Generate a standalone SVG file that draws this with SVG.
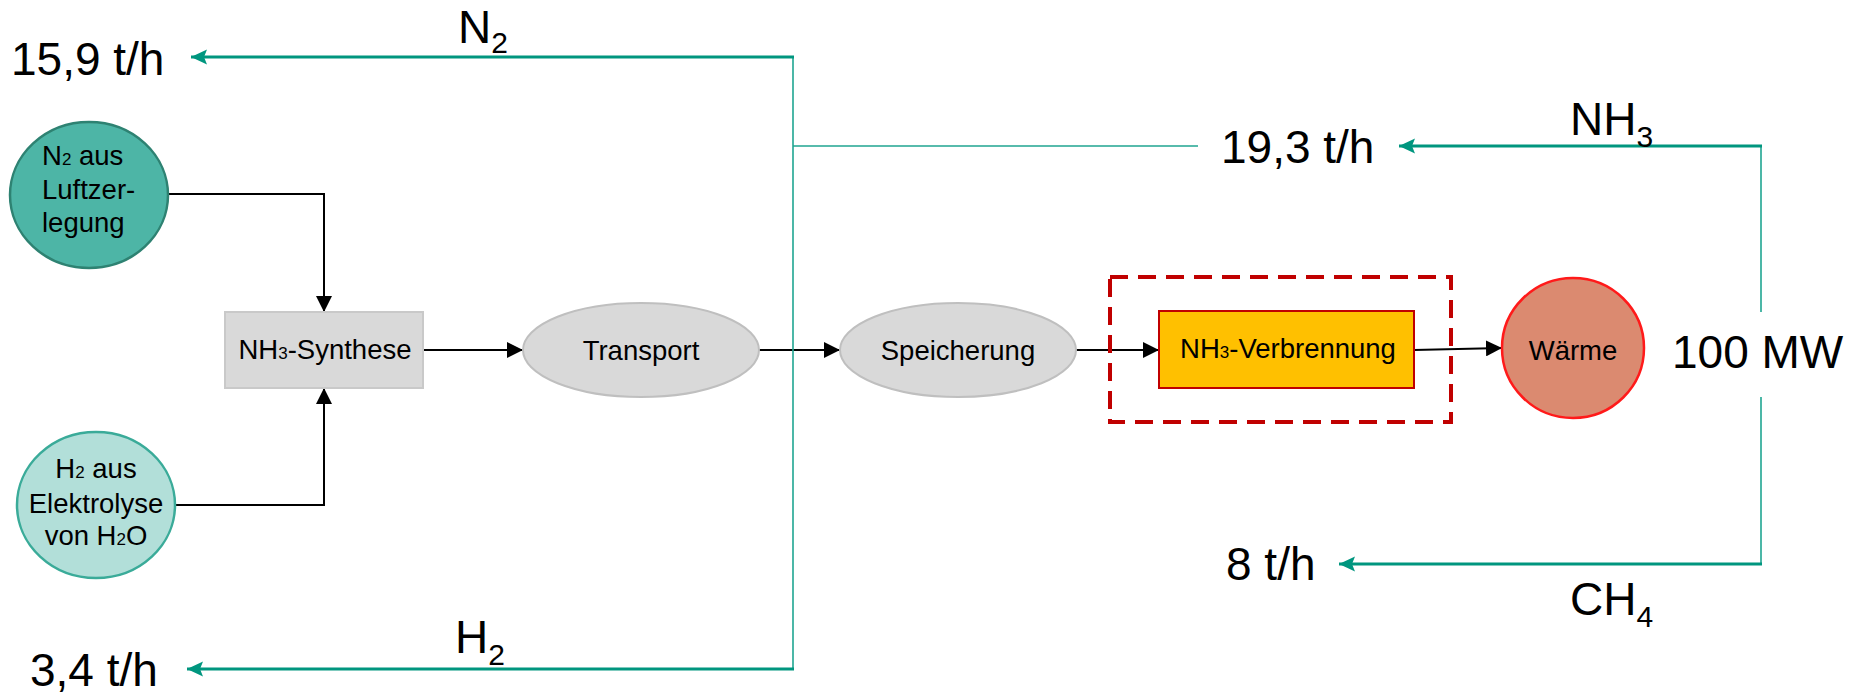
<svg xmlns="http://www.w3.org/2000/svg" width="1854" height="694" viewBox="0 0 1854 694">
  <style>
    text { font-family: "Liberation Sans", Arial, sans-serif; fill: #000; }
    .big { font-size: 46px; }
    .sub { font-size: 30px; }
    .lbl { font-size: 27.5px; }
    .lsub { font-size: 17px; }
    .flow { fill: none; stroke: #000; stroke-width: 2; }
    .teal { fill: none; stroke: #00967f; stroke-width: 3; }
    .tealthin { fill: none; stroke: #1fa591; stroke-width: 1.6; }
  </style>
  <defs>
    <marker id="arrowBlack" markerUnits="userSpaceOnUse" markerWidth="16" markerHeight="16" refX="16" refY="8" orient="auto">
      <path d="M0,0 L16,8 L0,16 Z" fill="#000"/>
    </marker>
    <marker id="arrowTeal" markerUnits="userSpaceOnUse" markerWidth="16" markerHeight="16" refX="16" refY="8" orient="auto">
      <path d="M0,0.5 L16,8 L0,15.5 L3,8 Z" fill="#00967f"/>
    </marker>
  </defs>

  <!-- connectors -->
  <g id="connectors">
    <!-- main process chain -->
    <path class="flow" d="M168,194 H324 V312" marker-end="url(#arrowBlack)"/>
    <path class="flow" d="M175,505 H324 V388" marker-end="url(#arrowBlack)"/>
    <path class="flow" d="M423,350 H523" marker-end="url(#arrowBlack)"/>
    <path class="flow" d="M759,350 H840" marker-end="url(#arrowBlack)"/>
    <path class="flow" d="M1076,350 H1159" marker-end="url(#arrowBlack)"/>
    <path class="flow" d="M1414,350 L1502,348" marker-end="url(#arrowBlack)"/>

    <!-- mass flows, left branch -->
    <path class="tealthin" d="M793,57 V669"/>
    <path class="tealthin" d="M793,146 H1198"/>
    <path class="teal" d="M794,57 H191" marker-end="url(#arrowTeal)"/>
    <path class="teal" d="M794,669 H187" marker-end="url(#arrowTeal)"/>

    <!-- mass flows, right branch -->
    <path class="tealthin" d="M1761,146 V312"/>
    <path class="tealthin" d="M1761,397 V564"/>
    <path class="teal" d="M1762,146 H1399" marker-end="url(#arrowTeal)"/>
    <path class="teal" d="M1762,564 H1339" marker-end="url(#arrowTeal)"/>
  </g>

  <!-- flow labels -->
  <g id="labels">
    <text class="big" x="11" y="75">15,9 t/h</text>
    <text class="big" x="458" y="43">N<tspan class="sub" dy="10">2</tspan></text>
    <text class="big" x="1221" y="163">19,3 t/h</text>
    <text class="big" x="1570" y="135">NH<tspan class="sub" dy="12">3</tspan></text>
    <text class="big" x="1672" y="368">100 MW</text>
    <text class="big" x="1226" y="580">8 t/h</text>
    <text class="big" x="1570" y="615">CH<tspan class="sub" dy="12">4</tspan></text>
    <text class="big" x="455" y="653">H<tspan class="sub" dy="12">2</tspan></text>
    <text class="big" x="30" y="686">3,4 t/h</text>
  </g>

  <!-- nodes -->
  <g id="n2-source">
    <ellipse cx="89" cy="195" rx="79" ry="73" fill="#4db5a6" stroke="#2e8272" stroke-width="2.5"/>
    <text class="lbl" x="42" y="165">N<tspan class="lsub">2</tspan> aus</text>
    <text class="lbl" x="42" y="199">Luftzer-</text>
    <text class="lbl" x="42" y="232">legung</text>
  </g>

  <g id="h2-source">
    <ellipse cx="96" cy="505" rx="79" ry="73" fill="#b2dfd9" stroke="#3aab99" stroke-width="2.5"/>
    <text class="lbl" x="96" y="478" text-anchor="middle">H<tspan class="lsub">2</tspan> aus</text>
    <text class="lbl" x="96" y="513" text-anchor="middle">Elektrolyse</text>
    <text class="lbl" x="96" y="545" text-anchor="middle">von H<tspan class="lsub">2</tspan>O</text>
  </g>

  <g id="synthese">
    <rect x="225" y="312" width="198" height="76" fill="#d9d9d9" stroke="#c9c9c9" stroke-width="2"/>
    <text class="lbl" x="325" y="359" text-anchor="middle">NH<tspan class="lsub">3</tspan>-Synthese</text>
  </g>

  <g id="transport">
    <ellipse cx="641" cy="350" rx="118" ry="47" fill="#d9d9d9" stroke="#bfbfbf" stroke-width="2"/>
    <text class="lbl" x="641" y="360" text-anchor="middle">Transport</text>
  </g>

  <g id="speicherung">
    <ellipse cx="958" cy="350" rx="118" ry="47" fill="#d9d9d9" stroke="#bfbfbf" stroke-width="2"/>
    <text class="lbl" x="958" y="360" text-anchor="middle">Speicherung</text>
  </g>

  <g id="verbrennung">
    <rect x="1110" y="277" width="341" height="145" fill="none" stroke="#c00000" stroke-width="4" stroke-dasharray="18,10"/>
    <rect x="1159" y="311" width="255" height="77" fill="#ffc000" stroke="#c00000" stroke-width="2"/>
    <text class="lbl" x="1288" y="358" text-anchor="middle" font-size="27">NH<tspan class="lsub">3</tspan>-Verbrennung</text>
  </g>

  <g id="waerme">
    <ellipse cx="1573" cy="348" rx="71" ry="70" fill="#db8a70" stroke="#ff1a1a" stroke-width="2.5"/>
    <text class="lbl" x="1573" y="360" text-anchor="middle">Wärme</text>
  </g>
</svg>
